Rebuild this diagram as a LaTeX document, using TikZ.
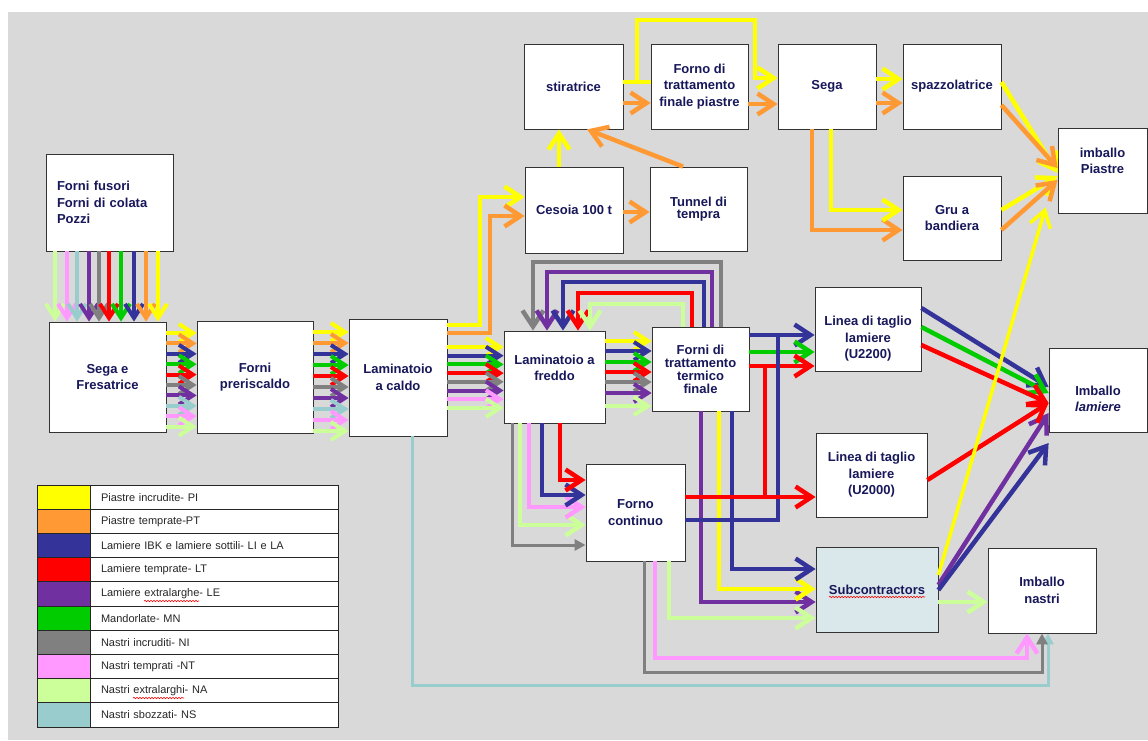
\documentclass[tikz,border=0pt]{standalone}
\usepackage{fontspec}
\setmainfont{Liberation Sans}
\usetikzlibrary{arrows.meta,decorations.pathmorphing}

\definecolor{cPI}{HTML}{FFFF00}
\definecolor{cPT}{HTML}{FF9933}
\definecolor{cLI}{HTML}{333399}
\definecolor{cLT}{HTML}{FF0000}
\definecolor{cLE}{HTML}{7030A0}
\definecolor{cMN}{HTML}{00CC00}
\definecolor{cNI}{HTML}{808080}
\definecolor{cNT}{HTML}{FF99FF}
\definecolor{cNA}{HTML}{CCFF99}
\definecolor{cNS}{HTML}{99CCCC}
\definecolor{boxtext}{HTML}{17175A}
\definecolor{backgr}{HTML}{D9D9D9}
\definecolor{subfill}{HTML}{DAE8EC}

\tikzset{
  box/.style={draw=black!80, fill=white, line width=0.8pt, text=boxtext, align=center,
    font=\bfseries\fontsize{13}{16.5}\selectfont},
  boxlabel/.style={text=boxtext, align=center, font=\bfseries\fontsize{13}{16.5}\selectfont},
  flow/.style={draw=c#1, line width=4.5pt, -{Straight Barb[length=16pt,width=21pt]}},
  bflow/.style={draw=c#1, line width=4pt, -{Straight Barb[length=14pt,width=18pt]}},
  pipe/.style={draw=c#1, line width=4.5pt},
  slim/.style={draw=c#1, line width=3pt, -{Triangle[length=11pt,width=11pt]}},
  swatch/.style={draw=black!85, line width=1pt, minimum width=53pt, minimum height=24.2pt},
  legtext/.style={draw=black!85, line width=1pt, fill=white, minimum height=24.2pt,
    text width=226pt, inner xsep=11pt, align=left, font=\fontsize{11}{13}\selectfont, text=black!85},
  squiggle/.style={draw=red, line width=0.6pt, decorate,
    decoration={snake, amplitude=0.7pt, segment length=3pt}}
}

\begin{document}
\begin{tikzpicture}[x=1pt,y=-1pt]
\useasboundingbox (0,0) rectangle (1148,740);
\fill[backgr] (8,12) rectangle (1148,740);

% boxes
\node[box, minimum width=127pt, minimum height=97pt, text width=105pt, align=left] (fusori) at (109.5,202.5) {Forni fusori\\Forni di colata\\Pozzi};
\node[box, minimum width=117pt, minimum height=110pt] (fresa) at (107.5,377) {Sega e\\Fresatrice};
\node[box, minimum width=116pt, minimum height=112pt] (preri) at (255,377) {Forni\\preriscaldo};
\node[box, minimum width=98pt, minimum height=117pt] (caldo) at (398,377.5) {Laminatoio\\a caldo};
\node[box, minimum width=99pt, minimum height=85pt] (stira) at (573.5,86.5) {stiratrice};
\node[box, minimum width=97pt, minimum height=85pt] (fpiastre) at (699.5,86.5) {Forno di\\trattamento\\finale piastre};
\node[box, minimum width=98pt, minimum height=85pt] (sega) at (827,86.5) {Sega};
\node[box, minimum width=98pt, minimum height=85pt] (spazzola) at (952,86.5) {spazzolatrice};
\node[box, minimum width=89pt, minimum height=85pt] (impiastre) at (1102.5,170.5) {};
\node[boxlabel] (impiastretxt) at ([yshift=9.5pt]impiastre.center) {imballo\\Piastre};
\node[box, minimum width=98pt, minimum height=84pt] (gru) at (952,218) {Gru a\\bandiera};
\node[box, minimum width=98pt, minimum height=86pt] (cesoia) at (574,210) {Cesoia 100 t};
\node[box, minimum width=97pt, minimum height=84pt, font=\bfseries\fontsize{13}{12}\selectfont] (tunnel) at (698.5,209) {Tunnel di\\tempra};
\node[box, minimum width=101pt, minimum height=92pt] (freddo) at (554.5,377) {};
\node[boxlabel] (freddotxt) at ([yshift=9pt]freddo.center) {Laminatoio a\\freddo};
\node[box, minimum width=97pt, minimum height=84pt, font=\bfseries\fontsize{13}{13}\selectfont] (termico) at (700.5,369) {Forni di\\trattamento\\termico\\finale};
\node[box, minimum width=106pt, minimum height=84pt] (ulin) at (868,329) {};
\node[boxlabel] (ulintxt) at ([yshift=-10pt]ulin.center) {Linea di taglio\\lamiere\\(U2200)};
\node[box, minimum width=111pt, minimum height=84pt] (ulin2) at (871.5,475) {Linea di taglio\\lamiere\\(U2000)};
\node[box, minimum width=98pt, minimum height=84pt] (imlamiere) at (1098,390) {};
\node[boxlabel] (imlamieretxt) at ([yshift=-9pt]imlamiere.center) {Imballo\\\textit{lamiere}};
\node[box, minimum width=99pt, minimum height=97pt] (continuo) at (635.5,512.5) {Forno\\continuo};
\node[box, fill=subfill, minimum width=122pt, minimum height=85pt] (sub) at (877,589.5) {Subcontractors};
\node[box, minimum width=108pt, minimum height=85pt] (imnastri) at (1042,590.5) {Imballo\\nastri};

% bundles of flows
\foreach \x/\col in {55/NA,67/NT,77/NS,89/LE,99/NI,109/LT,121/MN,134/LI,146/PT,158/PI}
  \draw[bflow=\col] (fusori.south -| \x,0) -- (fresa.north -| \x,0);
\foreach \col [count=\i from 0] in {PI,PT,LI,MN,LT,NI,LE,NS,NT,NA} {
  \pgfmathsetmacro\y{333+10.4*\i}
  \draw[bflow=\col] (fresa.east |- 0,\y) -- (preri.west |- 0,\y);
  \pgfmathsetmacro\y{332+11*\i}
  \draw[bflow=\col] (preri.east |- 0,\y) -- (caldo.west |- 0,\y);
}
\foreach \col [count=\i from 0] in {PI,LI,MN,LT,NI,LE,NT,NA} {
  \pgfmathsetmacro\y{347+8.7*\i}
  \draw[bflow=\col] (caldo.east |- 0,\y) -- (freddo.west |- 0,\y);
}
\foreach \y/\col in {341/PI,351/LI,362/MN,372/LT,382/NI,393/LE,406/NA}
  \draw[bflow=\col] (freddo.east |- 0,\y) -- (termico.west |- 0,\y);

% piastre
\draw[flow=PI] (caldo.east |- 0,325) -| (480,197) -- (cesoia.west |- 0,197);
\draw[flow=PT] (caldo.east |- 0,333) -| (490,216) -- (cesoia.west |- 0,216);
\draw[flow=PI] (cesoia.north -| 559,0) -- (stira.south -| 559,0);
\draw[flow=PT] (cesoia.east |- 0,212) -- (tunnel.west |- 0,212);
\draw[flow=PT] (tunnel.north -| 683,0) -- (stira.south -| 587,0);
\draw[flow=PT] (stira.east |- 0,103) -- (fpiastre.west |- 0,103);
\draw[pipe=PI] (stira.east |- 0,82) -- (fpiastre.west |- 0,82);
\draw[flow=PI] (stira.east |- 0,82) -| (637,20) -| (755,78) -- (sega.west |- 0,78);
\draw[flow=PT] (fpiastre.east |- 0,104) -- (sega.west |- 0,104);
\draw[flow=PI] (sega.east |- 0,79) -- (spazzola.west |- 0,79);
\draw[flow=PT] (sega.east |- 0,103) -- (spazzola.west |- 0,103);
\draw[flow=PT] (sega.south -| 812,0) |- (gru.west |- 0,230);
\draw[flow=PI] (sega.south -| 831,0) |- (gru.west |- 0,210);
\draw[flow=PI] (spazzola.east |- 0,82) -- (impiastre.west |- 0,173);
\draw[flow=PT] (spazzola.east |- 0,105) -- (impiastre.west |- 0,168);
\draw[flow=PI] (gru.east |- 0,210) -- (impiastre.west |- 0,176);
\draw[flow=PT] (gru.east |- 0,230) -- (impiastre.west |- 0,180);

% nastri sbozzati
\draw[slim=NS] (caldo.south -| 412,0) |- (1048,685) -- (imnastri.south -| 1048,0);

% back to the cold mill
\foreach \a/\h/\b/\col in {721/262/533/NI,712/272/547/LE,704/282/563/LI,692/293/578/LT,683/304/590/NA}
  \draw[flow=\col] (termico.north -| \a,0) |- (\b,\h) -- (freddo.north -| \b,0);

\foreach \y/\col in {335/LI,352/MN,366/LT}
  \draw[flow=\col] (termico.east |- 0,\y) -- (ulin.west |- 0,\y);
\foreach \a/\h/\col in {701/602/LE,719/589/PI,732/569/LI}
  \draw[flow=\col] (termico.south -| \a,0) |- (sub.west |- 0,\h);

% forno continuo
\draw[slim=NI] (freddo.south -| 512,0) |- (continuo.west |- 0,545);
\foreach \a/\h/\col in {520/525/NA,529/507/NT,542/495/LI,560/480/LT}
  \draw[flow=\col] (freddo.south -| \a,0) |- (continuo.west |- 0,\h);
\draw[pipe=LI] (continuo.east |- 0,520) -| (778,335);
\draw[pipe=LT] (continuo.east |- 0,497) -| (765,366);
\draw[flow=LT] (continuo.east |- 0,497) -- (ulin2.west |- 0,497);
\draw[slim=NI] (continuo.south -| 644,0) |- (1042,672) -- (imnastri.south -| 1042,0);
\draw[flow=NT] (continuo.south -| 655,0) |- (1027,658) -- (imnastri.south -| 1027,0);
\draw[flow=NA] (continuo.south -| 669,0) |- (sub.west |- 0,618);

% packing
\draw[flow=NA] (sub.east |- 0,602) -- (imnastri.west |- 0,602);
\draw[flow=LE] (sub.east |- 0,585) -- (imlamiere.west |- 0,413);
\draw[flow=LI] (sub.east |- 0,590) -- (imlamiere.west |- 0,443);
\draw[flow=LI] (ulin.east |- 0,308) -- (imlamiere.west |- 0,387);
\draw[flow=MN] (ulin.east |- 0,327) -- (imlamiere.west |- 0,393);
\draw[flow=LT] (ulin.east |- 0,345) -- (imlamiere.west |- 0,403);
\draw[flow=LT] (ulin2.east |- 0,480) -- (imlamiere.west |- 0,403);
\draw[flow=PI, line width=3.5pt] (sub.east |- 0,575) -- ([shift={(-12,-6)}]impiastre.south west);

% legend
\foreach \col/\lab [count=\i from 0] in {PI/Piastre incrudite- PI, PT/Piastre temprate-PT,
    LI/Lamiere IBK e lamiere sottili- LI e LA, LT/Lamiere temprate- LT, LE/Lamiere extralarghe- LE,
    MN/Mandorlate- MN, NI/Nastri incruditi- NI, NT/Nastri temprati -NT,
    NA/Nastri extralarghi- NA, NS/Nastri sbozzati- NS} {
  \pgfmathsetmacro\y{497.1+24.2*\i}
  \node[swatch, fill=c\col] (sw\col) at (63.5,\y) {};
  \node[legtext] (lt\col) at (214,\y) {\lab};
}

% spelling marks
\draw[squiggle] (829,597) -- (925,597);
\draw[squiggle] (144,601) -- (199,601);
\draw[squiggle] (133,698) -- (184,698);
\end{tikzpicture}
\end{document}
